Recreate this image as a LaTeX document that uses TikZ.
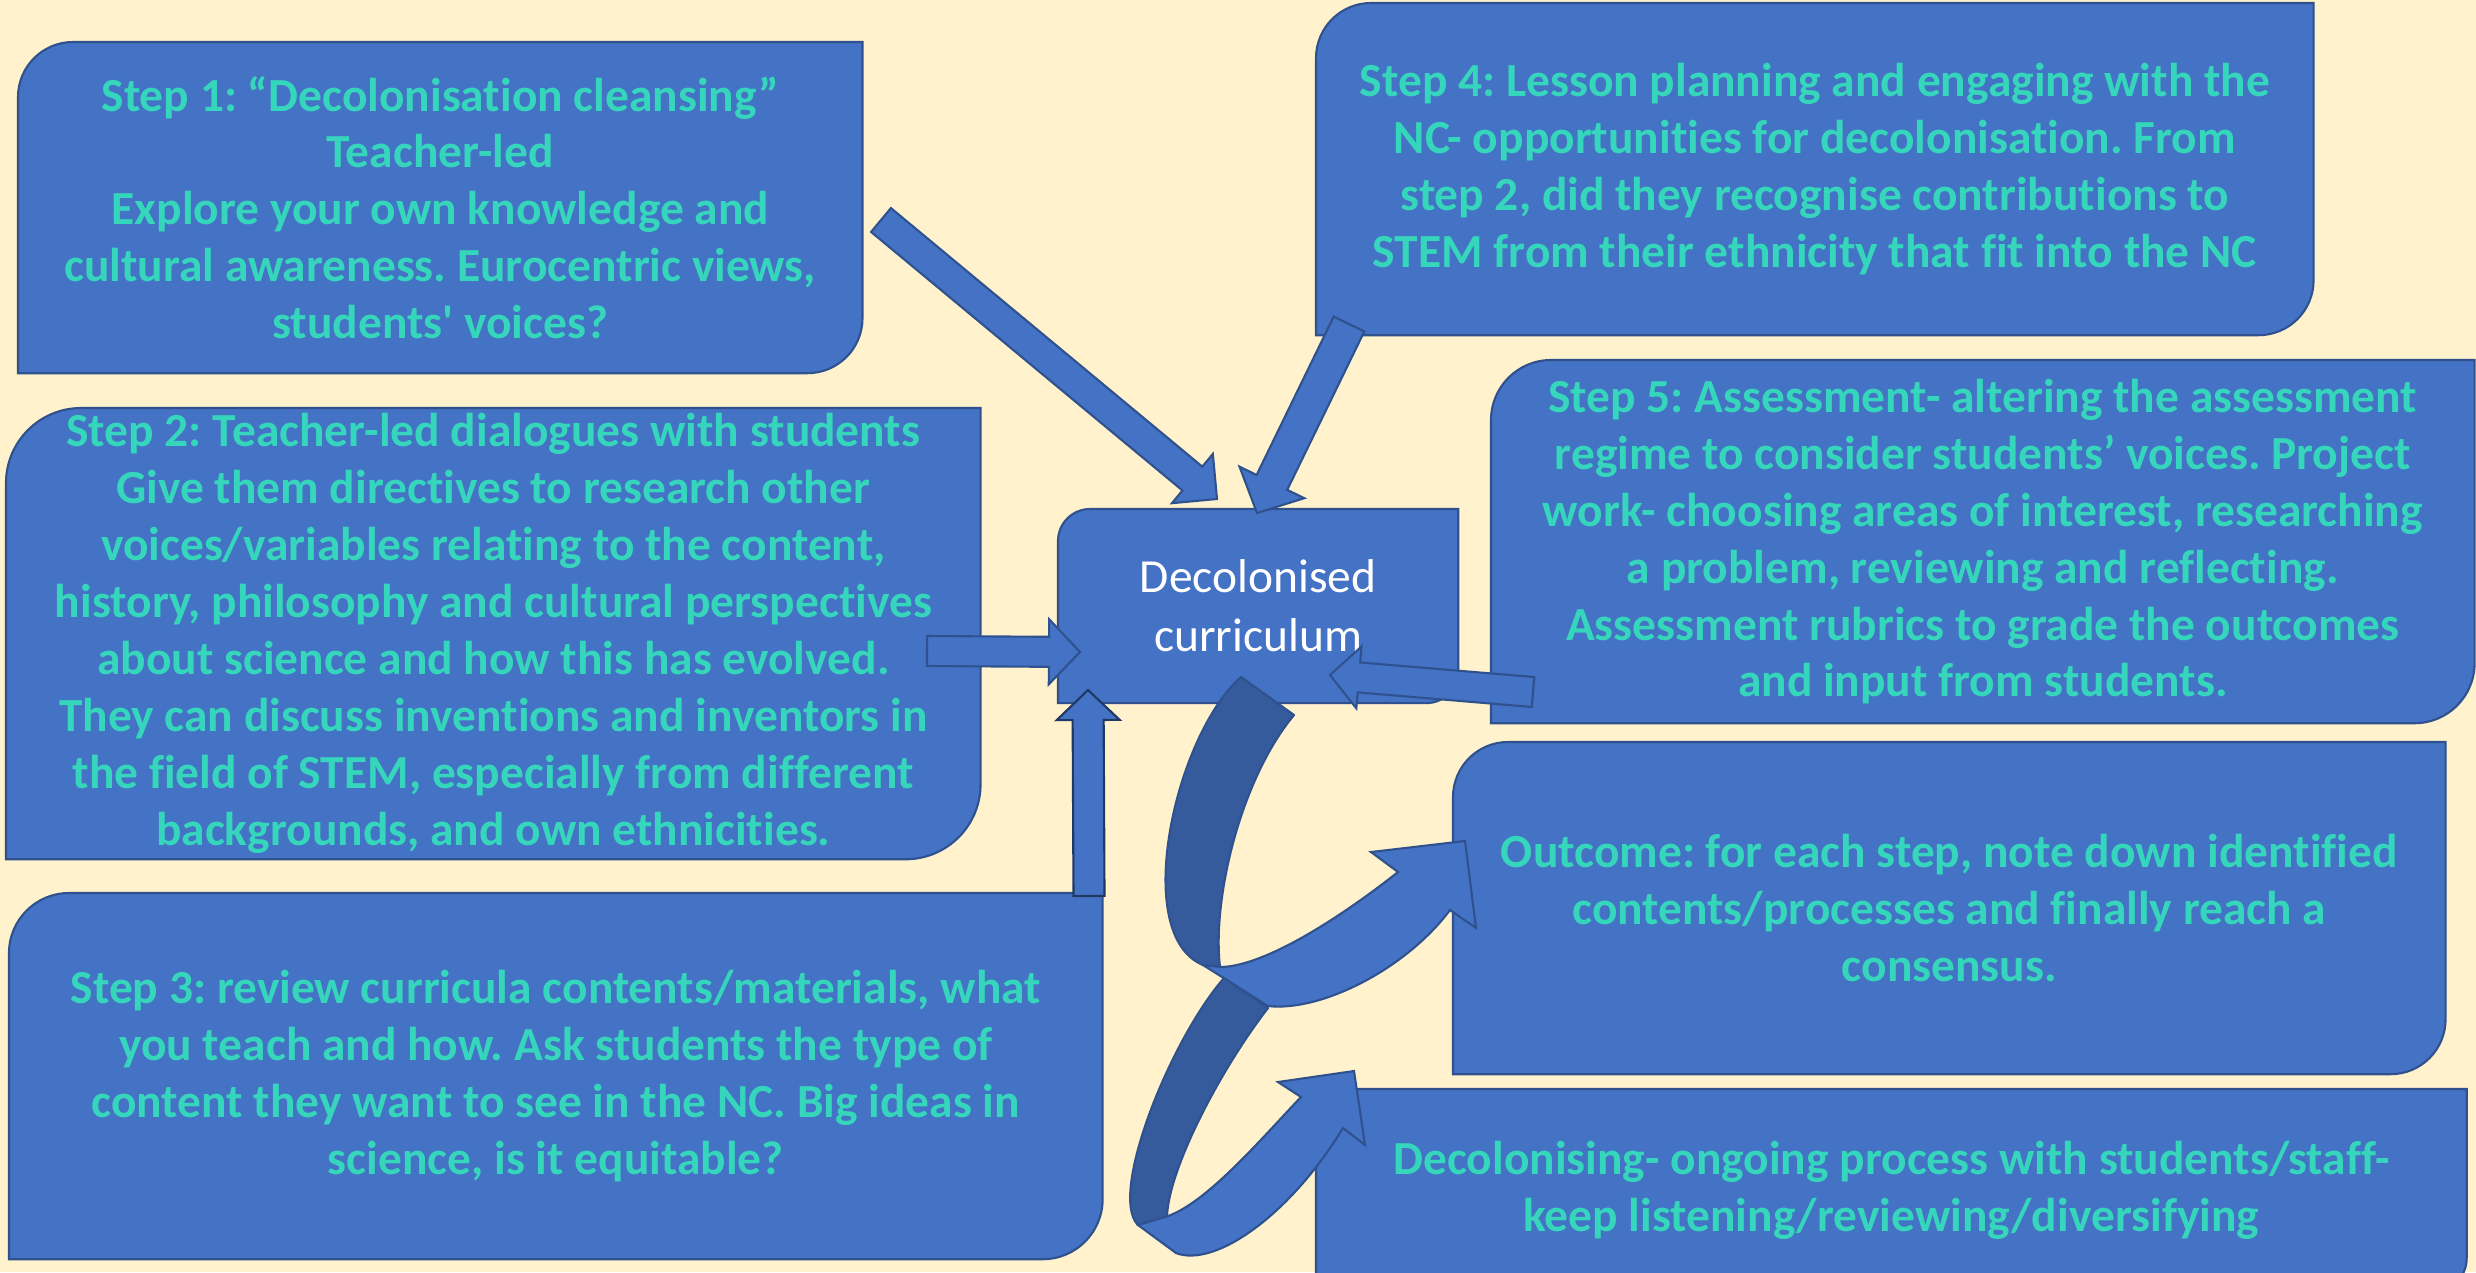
\documentclass[tikz,border=0pt]{standalone}
\usepackage{fontspec}
\setmainfont{Carlito}[Ligatures=NoCommon]
\usetikzlibrary{calc,positioning}
\pgfdeclarelayer{bg}
\pgfsetlayers{bg,main}
\frenchspacing

\definecolor{paper}{HTML}{FFF2CC}
\definecolor{boxblue}{HTML}{4472C4}
\definecolor{boxline}{HTML}{2F528F}
\definecolor{foldblue}{HTML}{365B9D}
\definecolor{steptext}{HTML}{35D6BB}
\definecolor{navyline}{HTML}{1F3864}

% block arrow: [border]{from}{to}{shaft half width}{head half width}{head length}
\newcommand\blockarr[6][boxline]{%
  \coordinate (hb) at ($(#3)!#6!(#2)$);
  \filldraw[fill=boxblue,draw=#1,line width=0.6pt,line join=miter]
    ($(#2)!#4!90:(#3)$) -- ($(hb)!#4!-90:(#2)$) -- ($(hb)!#5!-90:(#2)$) -- (#3)
    -- ($(hb)!#5!90:(#2)$) -- ($(hb)!#4!90:(#2)$) -- ($(#2)!#4!-90:(#3)$) -- cycle;
}

\begin{document}
\begin{tikzpicture}[x=0.01cm,y=-0.01cm,
        plainbox/.style={anchor=north west,inner sep=0pt,outer sep=0pt,align=center},
        stepbox/.style={plainbox,text=steptext,font=\fontsize{13.5}{16.2}\selectfont\bfseries},
        centrebox/.style={plainbox,text=white,font=\fontsize{13.5}{16.8}\selectfont},
        boxshape/.style={fill=boxblue,draw=boxline,line width=0.6pt},
        bandback/.style={fill=foldblue,draw=boxline,line width=0.6pt,line join=round},
        bandfront/.style={fill=boxblue,draw=boxline,line width=0.6pt,line join=miter}
      ]
  \useasboundingbox (0,0) rectangle (2476,1272);

  \node (s1) [stepbox,minimum width=8.44cm,minimum height=3.31cm] at (18,42)
    {Step 1: “Decolonisation cleansing”\\ Teacher-led\\ Explore your own knowledge and\\
     cultural awareness. Eurocentric views,\\ students\textquotesingle{} voices?};
  \node (s2) [stepbox,minimum width=9.74cm,minimum height=4.51cm] at (6,408)
    {Step 2: Teacher-led dialogues with students\\ Give them directives to research other\\
     voices/variables relating to the content,\\ history, philosophy and cultural perspectives\\
     about science and how this has evolved.\\ They can discuss inventions and inventors in\\
     the field of STEM, especially from different\\ backgrounds, and own ethnicities.};
  \node (s3) [stepbox,minimum width=10.93cm,minimum height=3.66cm] at (9,893)
    {Step 3: review curricula contents/materials, what\\ you teach and how. Ask students the type of\\
     content they want to see in the NC. Big ideas in\\ science, is it equitable?};
  \node (s4) [stepbox,minimum width=9.97cm,minimum height=3.32cm] at (1316,3)
    {Step 4: Lesson planning and engaging with the\\ NC- opportunities for decolonisation. From\\
     step 2, did they recognise contributions to\\ STEM from their ethnicity that fit into the NC};
  \node (s5) [stepbox,minimum width=9.83cm,minimum height=3.63cm] at (1491,360)
    {Step 5: Assessment- altering the assessment\\ regime to consider students’ voices. Project\\
     work- choosing areas of interest, researching\\ a problem, reviewing and reflecting.\\
     Assessment rubrics to grade the outcomes\\ and input from students.};
  \node (outc) [stepbox,minimum width=9.92cm,minimum height=3.32cm] at (1453,742)
    {Outcome: for each step, note down identified\\ contents/processes and finally reach a\\ consensus.};
  \node (ongo) [stepbox,minimum width=11.5cm,minimum height=2.03cm] at (1316,1089)
    {Decolonising- ongoing process with students/staff-\\ keep listening/reviewing/diversifying};
  \node (dc) [centrebox,minimum width=4cm,minimum height=1.94cm] at (1058,509)
    {Decolonised\\ curriculum};

  \begin{pgfonlayer}{bg}
    \fill[paper] (0,0) rectangle (2476,1272);
    \foreach \n/\r in {s1/0.55cm,s2/0.75cm,s3/0.6cm,s4/0.55cm,s5/0.6cm,outc/0.55cm,ongo/0.34cm,dc/0.32cm}
      \draw[boxshape] (\n.north) -- (\n.north east) [rounded corners=\r] -- (\n.south east)
        [sharp corners] -- (\n.south west) [rounded corners=\r] -- (\n.north west) [sharp corners] -- cycle;
  \end{pgfonlayer}

  \coordinate (a1) at (881,220);  \coordinate (a1h) at (1217,499);
  \coordinate (a4) at (1349,324); \coordinate (a4h) at (1257,513);
  \coordinate (a2) at (927,651);  \coordinate (a2h) at (1080,652);
  \coordinate (a3) at (1089,896); \coordinate (a3h) at (1088,690);
  \coordinate (a5) at (1533,692); \coordinate (a5h) at (1330,675);

  \blockarr{a1}{a1h}{0.155cm}{0.32cm}{0.32cm}
  \blockarr{a4}{a4h}{0.17cm}{0.36cm}{0.34cm}
  \blockarr{a2}{a2h}{0.15cm}{0.325cm}{0.31cm}
  \blockarr[navyline]{a3}{a3h}{0.155cm}{0.315cm}{0.30cm}
  \blockarr{a5}{a5h}{0.15cm}{0.31cm}{0.29cm}

  \draw[bandback] (1241,677) .. controls (1175,735) and (1130,935) .. (1203,965) -- (1220,967)
    .. controls (1212,900) and (1240,780) .. (1294,715) -- cycle;
  \draw[bandfront] (1203,965) -- (1268,1006) .. controls (1320,1012) and (1405,970) .. (1450,910)
    -- (1476,928) -- (1465,841) -- (1371,852) -- (1398,872)
    .. controls (1350,910) and (1270,965) .. (1222,967) -- cycle;

  \draw[bandback] (1224,978) .. controls (1170,1040) and (1108,1195) .. (1138,1225) -- (1167,1217)
    .. controls (1168,1170) and (1220,1070) .. (1268,1008) -- cycle;
  \draw[bandfront] (1138,1225) -- (1176,1253) .. controls (1215,1268) and (1290,1215) .. (1343,1128)
    -- (1365,1145) -- (1354,1071) -- (1278,1082) -- (1301,1097)
    .. controls (1260,1140) and (1205,1205) .. (1165,1217) -- cycle;

\end{tikzpicture}
\end{document}
